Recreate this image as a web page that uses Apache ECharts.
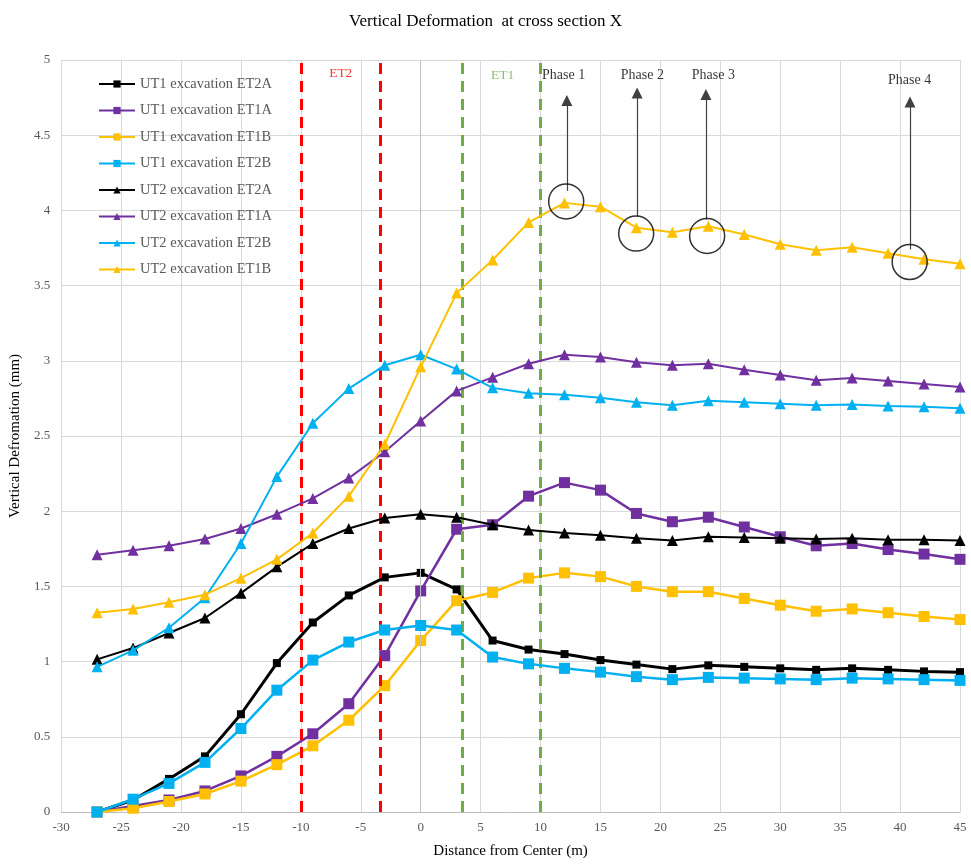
<!DOCTYPE html>
<html>
<head>
<meta charset="utf-8">
<script src="https://cdn.jsdelivr.net/npm/echarts@6/dist/echarts.min.js"></script>
<style>
html,body{margin:0;padding:0;background:#fff;}
#chart{width:971px;height:864px;}
</style>
</head>
<body>
<div id="chart"></div>
<script>
const xValues = [-27,-24,-21,-18,-15,-12,-9,-6,-3,0,3,6,9,12,15,18,21,24,27,30,33,36,39,42,45];
const seriesNames = ['UT1 excavation ET2A','UT1 excavation ET1A','UT1 excavation ET1B','UT1 excavation ET2B','UT2 excavation ET2A','UT2 excavation ET1A','UT2 excavation ET2B','UT2 excavation ET1B'];
const ut1_et2a = [0,0.08,0.22,0.37,0.65,0.99,1.26,1.44,1.56,1.59,1.48,1.14,1.08,1.05,1.01,0.98,0.95,0.975,0.965,0.955,0.945,0.955,0.945,0.935,0.93];
const ut1_et1a = [0,0.04,0.08,0.14,0.24,0.37,0.52,0.72,1.04,1.47,1.88,1.91,2.10,2.19,2.14,1.985,1.93,1.96,1.895,1.83,1.77,1.785,1.745,1.715,1.68];
const ut1_et1b = [0,0.025,0.07,0.12,0.205,0.315,0.44,0.61,0.84,1.14,1.405,1.46,1.555,1.59,1.565,1.5,1.465,1.465,1.42,1.375,1.335,1.35,1.325,1.3,1.28];
const ut1_et2b = [0,0.085,0.19,0.33,0.555,0.81,1.01,1.13,1.21,1.24,1.21,1.03,0.985,0.955,0.93,0.9,0.88,0.895,0.89,0.885,0.88,0.89,0.885,0.88,0.875];
const ut2_et2a = [1.015,1.09,1.19,1.29,1.455,1.63,1.785,1.885,1.955,1.98,1.96,1.91,1.875,1.855,1.84,1.82,1.805,1.83,1.825,1.82,1.815,1.82,1.81,1.81,1.805];
const ut2_et1a = [1.71,1.74,1.77,1.815,1.885,1.98,2.085,2.22,2.395,2.6,2.8,2.89,2.98,3.04,3.025,2.99,2.97,2.98,2.94,2.905,2.87,2.885,2.865,2.845,2.825];
const ut2_et2b = [0.965,1.075,1.225,1.425,1.785,2.23,2.585,2.815,2.97,3.04,2.945,2.82,2.785,2.775,2.755,2.725,2.705,2.735,2.725,2.715,2.705,2.71,2.7,2.695,2.685];
const ut2_et1b = [1.325,1.35,1.395,1.445,1.555,1.68,1.855,2.1,2.445,2.96,3.45,3.67,3.92,4.05,4.025,3.885,3.855,3.895,3.84,3.775,3.735,3.755,3.715,3.675,3.645];

// annotations (data coordinates)
const zoneLinesRed = [-10, -3.4];
const zoneLinesGreen = [3.5, 10];
const zoneLabels = [
  {name:'ET2', x:-6.67, y:4.91, color:'#FF0000'},
  {name:'ET1', x:6.83, y:4.90, color:'#70AD47'}
];
const phaseLabels = [
  {name:'Phase 1', x:11.92, y:4.897},
  {name:'Phase 2', x:18.5, y:4.897},
  {name:'Phase 3', x:24.42, y:4.897},
  {name:'Phase 4', x:40.8, y:4.862}
];
const phaseCircles = [[12.14,4.06],[17.98,3.846],[23.9,3.83],[40.8,3.657]];
const phaseArrows = [
  {x:12.2, from:4.13, to:4.73},
  {x:18.06, from:3.96, to:4.78},
  {x:23.8, from:3.94, to:4.77},
  {x:40.83, from:3.74, to:4.72}
];

const FONT = '"Liberation Serif","Times New Roman",serif';
const colors = ['#000000','#7030A0','#FFC000','#00B0F0','#000000','#7030A0','#00B0F0','#FFC000'];
const dataSets = [ut1_et2a,ut1_et1a,ut1_et1b,ut1_et2b,ut2_et2a,ut2_et1a,ut2_et2b,ut2_et1b];
const symbols = ['rect','rect','rect','rect','triangle','triangle','triangle','triangle'];
const symSizes = [8,11,11,11,11,11,11,11];
const widths = [3,2.5,2.5,2.5,2,2,2,2];

const series = dataSets.map((d,i)=>({
  name: seriesNames[i],
  type: 'line',
  data: xValues.map((x,j)=>[x,d[j]]),
  symbol: symbols[i],
  symbolSize: symSizes[i],
  showSymbol: true,
  itemStyle: {color: colors[i]},
  lineStyle: {color: colors[i], width: widths[i]},
  z: 2 + i,
  animation: false
}));

// annotation series
series.push({
  name: 'annot',
  type: 'scatter',
  z: 20,
  silent: true,
  animation: false,
  symbol: 'circle',
  symbolSize: 35,
  itemStyle: {color: 'rgba(0,0,0,0)', borderColor: '#000', borderWidth: 1.5},
  data: phaseCircles.map(c=>({value:c})),
  markLine: {
    silent: true,
    animation: false,
    label: {show:false},
    symbol: ['none','triangle'],
    symbolSize: 11,
    data: phaseArrows.map(a=>[
      {coord:[a.x,a.from], lineStyle:{color:'#404040', width:1.2, type:'solid'}, itemStyle:{color:'#000'}},
      {coord:[a.x,a.to]}
    ])
  }
});
series.push({
  name: 'zones',
  type: 'scatter',
  z: 15,
  silent: true,
  animation: false,
  symbolSize: 0,
  data: zoneLabels.map(l=>({value:[l.x,l.y], name:l.name, label:{color:l.color, fontSize:13.5}}))
      .concat(phaseLabels.map(l=>({value:[l.x,l.y], name:l.name, label:{color:'#000', fontSize:14}}))),
  label: {show:true, position:'inside', formatter: p=>p.name, fontFamily: FONT, fontSize: 14},
  markLine: {
    silent: true,
    animation: false,
    symbol: ['none','none'],
    label: {show:false},
    data: [{xAxis:0, lineStyle:{color:'#bfbfbf', width:1, type:'solid'}}]
      .concat(zoneLinesRed.map(x=>({xAxis:x, lineStyle:{color:'#FF0000', width:3, type:[11,7]}})))
      .concat(zoneLinesGreen.map(x=>({xAxis:x, lineStyle:{color:'#70AD47', width:3, type:[11,7]}})))
  }
});

const chart = echarts.init(document.getElementById('chart'));
chart.setOption({
  animation: false,
  backgroundColor: '#ffffff',
  title: {
    text: 'Vertical Deformation  at cross section X',
    left: 'center',
    top: 8,
    textStyle: {fontFamily: FONT, fontSize: 17, fontWeight: 'normal', color: '#000'}
  },
  legend: {
    data: seriesNames,
    orient: 'vertical',
    left: 93,
    top: 71,
    itemWidth: 36,
    itemHeight: 9,
    itemGap: 10.5,
    textStyle: {fontFamily: FONT, fontSize: 14.5, color: '#595959', lineHeight: 16},
    selectedMode: false
  },
  grid: {left: 60, right: 11, top: 60, bottom: 48, containLabel: false},
  xAxis: {
    type: 'value',
    min: -30, max: 45, interval: 5,
    name: 'Distance from Center (m)',
    nameLocation: 'middle',
    nameGap: 32,
    nameTextStyle: {fontFamily: FONT, fontSize: 15, color: '#000'},
    axisLine: {show: true, onZero: false, lineStyle: {color: '#bfbfbf', width: 1}},
    axisTick: {show: false},
    axisLabel: {fontFamily: FONT, fontSize: 13, color: '#595959', margin: 9},
    splitLine: {show: true, lineStyle: {color: '#d9d9d9', width: 1}}
  },
  yAxis: {
    type: 'value',
    min: 0, max: 5, interval: 0.5,
    name: 'Vertical Defromation (mm)',
    nameLocation: 'middle',
    nameGap: 35,
    nameTextStyle: {fontFamily: FONT, fontSize: 15, color: '#000'},
    axisLine: {show: false},
    axisTick: {show: false},
    axisLabel: {fontFamily: FONT, fontSize: 13, color: '#595959', margin: 11},
    splitLine: {show: true, lineStyle: {color: '#d9d9d9', width: 1}}
  },
  series: series
});
</script>
</body>
</html>
